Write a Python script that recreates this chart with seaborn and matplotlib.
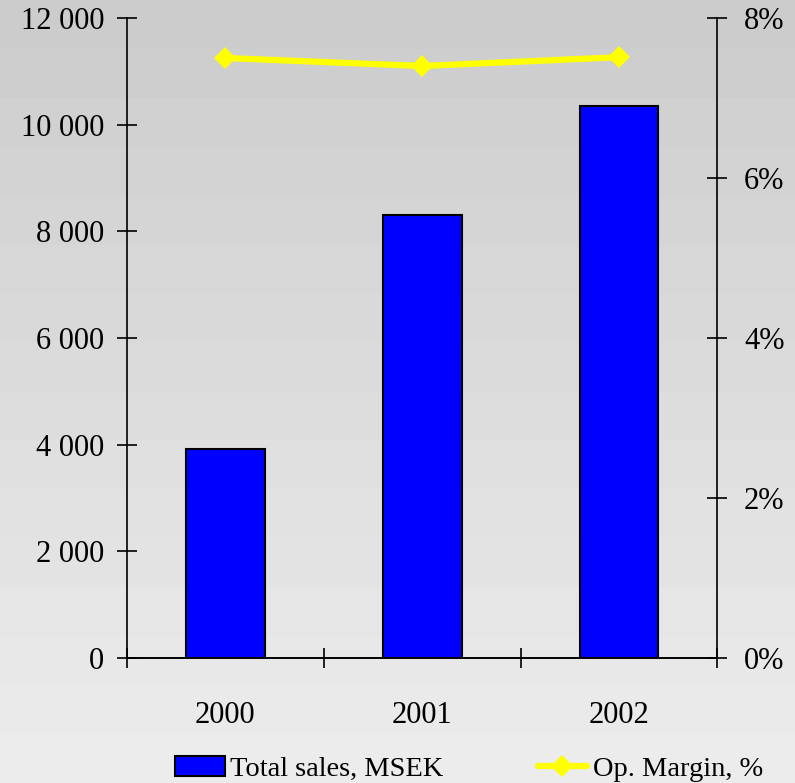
import numpy as np
import matplotlib
matplotlib.use("Agg")
import matplotlib.pyplot as plt
from matplotlib.patches import Patch
from matplotlib.lines import Line2D
from matplotlib.ticker import FixedLocator, FixedFormatter
import seaborn as sns

# Data
years = ["2000", "2001", "2002"]
total_sales = [3920, 8310, 10350]          # MSEK
op_margin = [7.50, 7.40, 7.51]             # %
sales_ticks = [0, 2000, 4000, 6000, 8000, 10000, 12000]
sales_tick_labels = ["0", "2 000", "4 000", "6 000", "8 000", "10 000", "12 000"]
margin_ticks = [0, 2, 4, 6, 8]
margin_tick_labels = ["0%", "2%", "4%", "6%", "8%"]
legend_labels = ["Total sales, MSEK", "Op. Margin, %"]

sns.set_theme(style="white")
plt.rcParams["font.family"] = ["Liberation Serif", "DejaVu Serif"]

FS = 22
LEG_FS = 20.5
MS = 11
fig = plt.figure(figsize=(7.95, 7.83), dpi=100)

# Banded vertical gradient behind everything
bg = fig.add_axes([0, 0, 1, 1], zorder=-10)
n_bands = 16
shades = np.linspace(0.80, 0.925, n_bands).reshape(-1, 1)
bg.imshow(shades, aspect="auto", cmap="gray", vmin=0, vmax=1,
          extent=[0, 1, 0, 1], origin="upper", interpolation="nearest")
bg.set_axis_off()

ax = fig.add_axes([0.1597, 0.1596, 0.7426, 0.8174])
ax.patch.set_alpha(0)

sns.barplot(x=years, y=total_sales, color="#0000ff", saturation=1,
            edgecolor="black", linewidth=1.5, width=0.4, ax=ax, zorder=3)
ax.set_xlim(-0.5, 2.5)
ax.set_ylim(0, 12000)
ax.set_xlabel("")
ax.set_ylabel("")

ax2 = ax.twinx()
ax2.patch.set_alpha(0)
sns.pointplot(x=years, y=op_margin, color="#ffff00", markers="D",
              linestyles="-", ax=ax2, markersize=MS, linewidth=4.5,
              markeredgewidth=0)
ax2.set_ylim(0, 8)
ax2.set_xlim(-0.5, 2.5)
ax2.set_ylabel("")

# Axis lines: left, right and bottom only
for a in (ax, ax2):
    a.spines["top"].set_visible(False)
    for side in ("left", "right", "bottom"):
        a.spines[side].set_color("black")
        a.spines[side].set_linewidth(1.2)
ax.spines["right"].set_visible(False)
ax2.spines["left"].set_visible(False)

ax.yaxis.set_major_locator(FixedLocator(sales_ticks))
ax.yaxis.set_major_formatter(FixedFormatter(sales_tick_labels))
ax2.yaxis.set_major_locator(FixedLocator(margin_ticks))
ax2.yaxis.set_major_formatter(FixedFormatter(margin_tick_labels))

# Category boundaries carry the x ticks; labels sit at category centres
ax.xaxis.set_major_locator(FixedLocator([-0.5, 0.5, 1.5, 2.5]))
ax.xaxis.set_major_formatter(FixedFormatter(["", "", "", ""]))
ax.xaxis.set_minor_locator(FixedLocator([0, 1, 2]))
ax.xaxis.set_minor_formatter(FixedFormatter(years))

ax.tick_params(axis="y", which="major", direction="inout", length=14.5,
               width=1.2, color="black", labelsize=FS, pad=9,
               left=True, labelleft=True)
ax.tick_params(axis="x", which="major", direction="inout", length=14.5,
               width=1.2, color="black", bottom=True)
ax.tick_params(axis="x", which="minor", length=0, labelsize=FS, pad=31)
ax2.tick_params(axis="y", direction="inout", length=14.5, width=1.2,
                color="black", labelsize=FS, pad=12, right=True,
                labelright=True)
ax2.tick_params(axis="x", bottom=False, labelbottom=False)
for lbl in ax.get_yticklabels() + ax2.get_yticklabels() + ax.get_xticklabels(minor=True):
    lbl.set_color("black")

handles = [
    Patch(facecolor="#0000ff", edgecolor="black", linewidth=1.5),
    Line2D([0], [0], color="#ffff00", lw=4.5, marker="D", markersize=MS,
           markeredgewidth=0),
]
fig.legend(handles, legend_labels, loc="center", bbox_to_anchor=(0.590, 0.018),
           ncol=2, frameon=False, fontsize=LEG_FS, handlelength=1.75,
           handleheight=0.7, handletextpad=0.2, columnspacing=3.3,
           labelcolor="black")

fig.savefig("out.png", dpi=100)
